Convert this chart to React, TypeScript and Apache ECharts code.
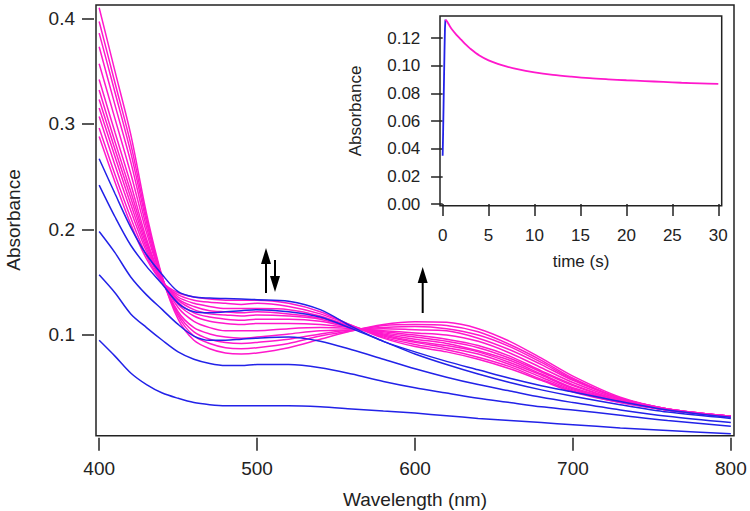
import React, { useEffect, useRef } from 'react';
import * as echarts from 'echarts';

// ---- main chart data: absorbance spectra ----
const WAVELENGTHS = [400, 410, 420, 430, 440, 450, 460, 470, 480, 490, 500, 520, 540, 560, 580, 600, 620, 640, 660, 680, 700, 730, 760, 800];

const BLUE_1 = [0.095, 0.080, 0.064, 0.053, 0.045, 0.040, 0.036, 0.034, 0.033, 0.033, 0.033, 0.033, 0.032, 0.030, 0.028, 0.026, 0.0235, 0.021, 0.019, 0.017, 0.015, 0.012, 0.0095, 0.0065];
const BLUE_2 = [0.157, 0.140, 0.120, 0.107, 0.095, 0.084, 0.077, 0.073, 0.071, 0.071, 0.072, 0.072, 0.069, 0.063, 0.056, 0.050, 0.045, 0.040, 0.036, 0.032, 0.029, 0.024, 0.019, 0.0135];
const BLUE_3 = [0.198, 0.178, 0.155, 0.138, 0.124, 0.110, 0.099, 0.095, 0.095, 0.096, 0.097, 0.098, 0.094, 0.086, 0.077, 0.068, 0.060, 0.053, 0.047, 0.041, 0.036, 0.029, 0.023, 0.017];
const BLUE_4 = [0.242, 0.212, 0.185, 0.165, 0.148, 0.130, 0.122, 0.121, 0.122, 0.123, 0.124, 0.122, 0.117, 0.106, 0.094, 0.082, 0.072, 0.063, 0.055, 0.048, 0.042, 0.034, 0.027, 0.021];
const BLUE_5 = [0.267, 0.234, 0.202, 0.176, 0.157, 0.141, 0.136, 0.135, 0.1345, 0.134, 0.1335, 0.132, 0.124, 0.108, 0.094, 0.084, 0.075, 0.067, 0.059, 0.052, 0.046, 0.037, 0.029, 0.022];

const PINK_1 = [0.288, 0.245, 0.205, 0.172, 0.150, 0.140, 0.136, 0.134, 0.133, 0.133, 0.133, 0.130, 0.122, 0.109, 0.097, 0.089, 0.084, 0.077, 0.068, 0.057, 0.046, 0.036, 0.029, 0.023];
const PINK_2 = [0.296, 0.252, 0.211, 0.175, 0.150, 0.138, 0.133, 0.131, 0.130, 0.129, 0.130, 0.127, 0.120, 0.109, 0.098, 0.091, 0.086, 0.079, 0.070, 0.058, 0.047, 0.036, 0.029, 0.023];
const PINK_3 = [0.307, 0.261, 0.218, 0.179, 0.151, 0.136, 0.130, 0.127, 0.125, 0.125, 0.125, 0.124, 0.118, 0.108, 0.099, 0.093, 0.088, 0.082, 0.072, 0.060, 0.048, 0.037, 0.029, 0.023];
const PINK_4 = [0.315, 0.269, 0.224, 0.182, 0.151, 0.134, 0.127, 0.123, 0.122, 0.121, 0.122, 0.120, 0.116, 0.108, 0.100, 0.094, 0.090, 0.084, 0.074, 0.062, 0.049, 0.037, 0.029, 0.023];
const PINK_5 = [0.323, 0.276, 0.230, 0.185, 0.151, 0.133, 0.124, 0.120, 0.119, 0.118, 0.119, 0.118, 0.115, 0.107, 0.101, 0.096, 0.092, 0.085, 0.076, 0.063, 0.050, 0.038, 0.029, 0.023];
const PINK_6 = [0.332, 0.283, 0.236, 0.188, 0.152, 0.131, 0.121, 0.117, 0.115, 0.114, 0.115, 0.115, 0.113, 0.107, 0.102, 0.098, 0.094, 0.088, 0.078, 0.065, 0.052, 0.038, 0.029, 0.023];
const PINK_7 = [0.342, 0.292, 0.243, 0.191, 0.152, 0.129, 0.118, 0.113, 0.111, 0.110, 0.111, 0.111, 0.110, 0.107, 0.103, 0.100, 0.096, 0.090, 0.080, 0.066, 0.053, 0.038, 0.029, 0.023];
const PINK_8 = [0.357, 0.305, 0.253, 0.197, 0.153, 0.126, 0.113, 0.107, 0.104, 0.104, 0.104, 0.106, 0.107, 0.106, 0.104, 0.102, 0.100, 0.094, 0.083, 0.069, 0.055, 0.039, 0.030, 0.023];
const PINK_9 = [0.373, 0.318, 0.264, 0.202, 0.153, 0.122, 0.107, 0.101, 0.098, 0.097, 0.098, 0.101, 0.104, 0.105, 0.106, 0.105, 0.104, 0.097, 0.086, 0.072, 0.057, 0.040, 0.030, 0.023];
const PINK_10 = [0.386, 0.330, 0.273, 0.207, 0.154, 0.120, 0.103, 0.096, 0.093, 0.092, 0.093, 0.096, 0.101, 0.105, 0.107, 0.108, 0.106, 0.100, 0.089, 0.074, 0.058, 0.040, 0.030, 0.023];
const PINK_11 = [0.397, 0.339, 0.281, 0.211, 0.154, 0.118, 0.099, 0.092, 0.088, 0.087, 0.088, 0.092, 0.099, 0.104, 0.109, 0.110, 0.109, 0.103, 0.091, 0.076, 0.059, 0.040, 0.030, 0.023];
const PINK_12 = [0.410, 0.350, 0.290, 0.215, 0.155, 0.115, 0.095, 0.087, 0.083, 0.082, 0.083, 0.088, 0.096, 0.104, 0.110, 0.1125, 0.112, 0.106, 0.094, 0.078, 0.061, 0.041, 0.030, 0.023];

const BLUE_SPECTRA = [BLUE_1, BLUE_2, BLUE_3, BLUE_4, BLUE_5];
const PINK_SPECTRA = [PINK_1, PINK_2, PINK_3, PINK_4, PINK_5, PINK_6, PINK_7, PINK_8, PINK_9, PINK_10, PINK_11, PINK_12];

const X_TICKS = [400, 500, 600, 700, 800];
const Y_TICKS = [0.1, 0.2, 0.3, 0.4];

// ---- inset data: kinetic trace ----
const RISE_TIME = [0, 0.05, 0.1, 0.15, 0.2, 0.25, 0.3];
const RISE_ABS = [0.035, 0.052, 0.072, 0.092, 0.111, 0.127, 0.1335];
const DECAY_TIME = [0.3, 0.5, 0.75, 1, 1.5, 2, 2.5, 3, 4, 5, 6, 7, 8, 10, 12, 14, 16, 18, 20, 22, 24, 26, 28, 30];
const DECAY_ABS = [0.1335, 0.132, 0.129, 0.1265, 0.1225, 0.119, 0.1155, 0.1125, 0.1075, 0.104, 0.1015, 0.0995, 0.0978, 0.0953, 0.0935, 0.0922, 0.0911, 0.0903, 0.0896, 0.089, 0.0884, 0.0878, 0.0874, 0.087];
const INSET_X_TICKS = [0, 5, 10, 15, 20, 25, 30];
const INSET_Y_TICKS = [0, 0.02, 0.04, 0.06, 0.08, 0.1, 0.12];

const BLUE = '#2222e8';
const PINK = '#ff18cc';
const INK = '#222222';
const FONT = 'Liberation Sans, Arial, sans-serif';

function zip(xs: number[], ys: number[]) {
  return xs.map((x, i) => [x, ys[i]]);
}

function arrow(x: number, tipY: number, tailY: number) {
  const dir = tailY > tipY ? 1 : -1; // 1 => pointing up
  const headLen = 16;
  const baseY = tipY + dir * headLen;
  return [
    { type: 'line', shape: { x1: x, y1: tailY, x2: x, y2: baseY }, style: { stroke: '#000', lineWidth: 2 } },
    { type: 'polygon', shape: { points: [[x - 5, baseY], [x + 5, baseY], [x, tipY]] }, style: { fill: '#000' } },
  ];
}

export default function App() {
  const ref = useRef<HTMLDivElement>(null);
  useEffect(() => {
    const chart = echarts.init(ref.current!, null, { renderer: 'svg' });
    const mainSeries: any[] = [];
    PINK_SPECTRA.forEach((s, i) =>
      mainSeries.push({
        type: 'line', name: 'pink' + (i + 1), xAxisIndex: 0, yAxisIndex: 0,
        data: zip(WAVELENGTHS, s), showSymbol: false, smooth: 0.3,
        lineStyle: { color: PINK, width: 1.5 }, itemStyle: { color: PINK },
      })
    );
    BLUE_SPECTRA.forEach((s, i) =>
      mainSeries.push({
        type: 'line', name: 'blue' + (i + 1), xAxisIndex: 0, yAxisIndex: 0,
        data: zip(WAVELENGTHS, s), showSymbol: false, smooth: 0.3,
        lineStyle: { color: BLUE, width: 1.5 }, itemStyle: { color: BLUE },
      })
    );
    const insetSeries = [
      {
        type: 'line', name: 'rise', xAxisIndex: 1, yAxisIndex: 1, data: zip(RISE_TIME, RISE_ABS),
        showSymbol: false, lineStyle: { color: BLUE, width: 1.8 }, itemStyle: { color: BLUE },
      },
      {
        type: 'line', name: 'decay', xAxisIndex: 1, yAxisIndex: 1, data: zip(DECAY_TIME, DECAY_ABS),
        showSymbol: false, smooth: 0.3, lineStyle: { color: PINK, width: 1.8 }, itemStyle: { color: PINK },
      },
    ];

    const tickStyle = { color: INK, width: 1.5 };
    const option: any = {
      animation: false,
      backgroundColor: '#ffffff',
      grid: [
        { left: 96, top: 5, width: 638, height: 430.7, show: true, borderColor: INK, borderWidth: 1.5, backgroundColor: 'transparent', containLabel: false, outerBoundsMode: 'none' },
        { left: 440, top: 16, width: 281.7, height: 189.7, show: true, borderColor: INK, borderWidth: 1.5, backgroundColor: 'transparent', containLabel: false, outerBoundsMode: 'none' },
      ],
      xAxis: [
        {
          type: 'value', gridIndex: 0, min: 398, max: 802, offset: 2,
          axisLine: { show: false }, splitLine: { show: false },
          axisTick: { show: true, inside: false, length: 13, lineStyle: tickStyle, customValues: X_TICKS },
          axisLabel: { customValues: X_TICKS, margin: 21, fontSize: 19, fontFamily: FONT, color: INK },
        },
        {
          type: 'value', gridIndex: 1, min: -0.29, max: 30.37, offset: 1.3,
          axisLine: { show: false }, splitLine: { show: false },
          axisTick: { show: true, inside: false, length: 12, lineStyle: tickStyle, customValues: INSET_X_TICKS },
          axisLabel: { customValues: INSET_X_TICKS, margin: 20, fontSize: 17, fontFamily: FONT, color: INK },
        },
      ],
      yAxis: [
        {
          type: 'value', gridIndex: 0, min: 0.0046, max: 0.4126, offset: 2,
          axisLine: { show: false }, splitLine: { show: false },
          axisTick: { show: true, inside: false, length: 12, lineStyle: tickStyle, customValues: Y_TICKS },
          axisLabel: { customValues: Y_TICKS, margin: 19, fontSize: 19, fontFamily: FONT, color: INK, formatter: (v: number) => v.toFixed(1) },
        },
        {
          type: 'value', gridIndex: 1, min: -0.0012, max: 0.1361, offset: 1.7,
          axisLine: { show: false }, splitLine: { show: false },
          axisTick: { show: true, inside: false, length: 11.6, lineStyle: tickStyle, customValues: INSET_Y_TICKS },
          axisLabel: { customValues: INSET_Y_TICKS, margin: 18, fontSize: 17, fontFamily: FONT, color: INK, formatter: (v: number) => v.toFixed(2) },
        },
      ],
      series: [...mainSeries, ...insetSeries],
      graphic: [
        { type: 'text', x: 13.5, y: 220, rotation: Math.PI / 2, style: { text: 'Absorbance', fontSize: 19, fontFamily: FONT, fill: INK, align: 'center', verticalAlign: 'middle', textAlign: 'center', textVerticalAlign: 'middle' } },
        { type: 'text', x: 415, y: 499, style: { text: 'Wavelength (nm)', fontSize: 19, fontFamily: FONT, fill: INK, align: 'center', verticalAlign: 'middle', textAlign: 'center', textVerticalAlign: 'middle' } },
        { type: 'text', x: 355, y: 111, rotation: Math.PI / 2, style: { text: 'Absorbance', fontSize: 17, fontFamily: FONT, fill: INK, align: 'center', verticalAlign: 'middle', textAlign: 'center', textVerticalAlign: 'middle' } },
        { type: 'text', x: 581, y: 261, style: { text: 'time (s)', fontSize: 17, fontFamily: FONT, fill: INK, align: 'center', verticalAlign: 'middle', textAlign: 'center', textVerticalAlign: 'middle' } },
        ...arrow(266, 248, 293),
        ...arrow(275, 292, 260),
        ...arrow(422.7, 267, 313),
      ],
    };
    chart.setOption(option);
    return () => chart.dispose();
  }, []);
  return <div ref={ref} style={{ position: 'absolute', left: 0, top: 0, width: 750, height: 511 }} />;
}
